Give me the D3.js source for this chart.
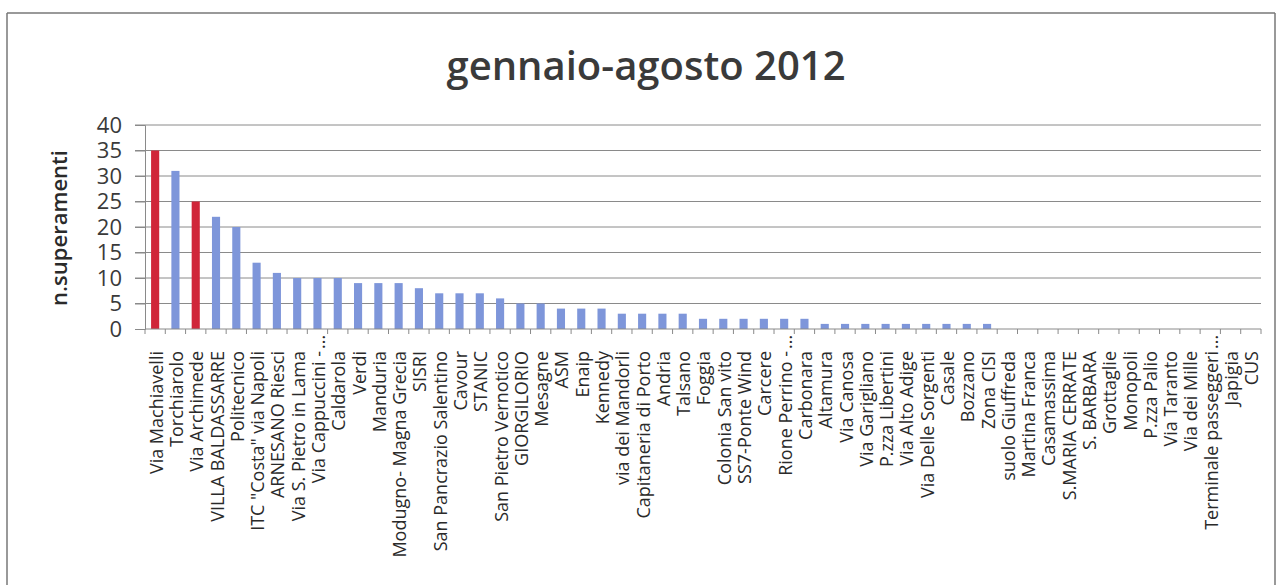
<!DOCTYPE html>
<html>
<head>
<meta charset="utf-8">
<script src="https://cdn.jsdelivr.net/npm/d3@7"></script>
<style>
    body { margin: 0; background: #fff; }
    svg { font-family: "Open Sans", sans-serif; display: block; }
</style>
</head>
<body>
<div id="chart"></div>
<script>
// Dati
const stazioni = [
    'Via Machiavelli', 'Torchiarolo', 'Via Archimede', 'VILLA BALDASSARRE', 'Politecnico',
    'ITC "Costa" via Napoli', 'ARNESANO Riesci', 'Via S. Pietro in Lama', 'Via Cappuccini -...', 'Caldarola',
    'Verdi', 'Manduria', 'Modugno- Magna Grecia', 'SISRI', 'San Pancrazio Salentino',
    'Cavour', 'STANIC', 'San Pietro Vernotico', 'GIORGILORIO', 'Mesagne',
    'ASM', 'Enaip', 'Kennedy', 'via dei Mandorli', 'Capitaneria di Porto',
    'Andria', 'Talsano', 'Foggia', 'Colonia San vito', 'SS7-Ponte Wind',
    'Carcere', 'Rione Perrino -...', 'Carbonara', 'Altamura', 'Via Canosa',
    'Via Garigliano', 'P.zza Libertini', 'Via Alto Adige', 'Via Delle Sorgenti', 'Casale',
    'Bozzano', 'Zona CISI', 'suolo Giuffreda', 'Martina Franca', 'Casamassima',
    'S.MARIA CERRATE', 'S. BARBARA', 'Grottaglie', 'Monopoli', 'P.zza Palio',
    'Via Taranto', 'Via dei Mille', 'Terminale passeggeri...', 'Japigia', 'CUS'
];
const superamenti = [
    35, 31, 25, 22, 20, 13, 11, 10, 10, 10,
    9, 9, 9, 8, 7, 7, 7, 6, 5, 5,
    4, 4, 4, 3, 3, 3, 3, 2, 2, 2,
    2, 2, 2, 1, 1, 1, 1, 1, 1, 1,
    1, 1, 0, 0, 0, 0, 0, 0, 0, 0,
    0, 0, 0, 0, 0
];
// stazioni evidenziate in rosso
const evidenziate = ['Via Machiavelli', 'Via Archimede'];
const yTicks = [0, 5, 10, 15, 20, 25, 30, 35, 40];
const titolo = 'gennaio-agosto 2012';
const titoloY = 'n.superamenti';

const width = 1278, height = 585;
const margin = { top: 125, right: 17, bottom: 256, left: 145 };
const innerWidth = width - margin.left - margin.right;
const innerHeight = height - margin.top - margin.bottom;

const data = stazioni.map((s, i) => ({ nome: s, valore: superamenti[i] }));

const svg = d3.select('#chart')
    .append('svg')
    .attr('width', width)
    .attr('height', height);

// cornice: solo i lati superiore, sinistro e destro
svg.append('g')
    .selectAll('line')
    .data([[7, 13, 1275, 13], [7, 13, 7, height], [1275, 13, 1275, height]])
    .enter()
    .append('line')
    .attr('x1', d => d[0]).attr('y1', d => d[1])
    .attr('x2', d => d[2]).attr('y2', d => d[3])
    .attr('stroke', '#777')
    .attr('stroke-width', 1.5);

svg.append('text')
    .attr('x', 646).attr('y', 80)
    .attr('text-anchor', 'middle')
    .attr('font-size', 40)
    .attr('font-weight', 600)
    .attr('fill', '#3a3a3a')
    .text(titolo);

const g = svg.append('g')
    .attr('transform', `translate(${margin.left},${margin.top})`);

const x = d3.scaleBand()
    .domain(stazioni)
    .range([0, innerWidth])
    .paddingInner(0.6)
    .paddingOuter(0.3);

const y = d3.scaleLinear()
    .domain([0, 40])
    .range([innerHeight, 0]);

// griglia
g.append('g')
    .selectAll('line')
    .data(yTicks.slice(1))
    .enter()
    .append('line')
    .attr('x1', -10).attr('x2', innerWidth)
    .attr('y1', d => y(d)).attr('y2', d => y(d))
    .attr('stroke', '#8a8a8a')
    .attr('stroke-width', 1);

// asse y
const yAxis = g.append('g')
    .call(d3.axisLeft(y).tickValues(yTicks).tickSize(10).tickPadding(13));
yAxis.select('.domain').attr('stroke', '#8a8a8a');
yAxis.selectAll('.tick line').attr('stroke', '#8a8a8a');
yAxis.selectAll('.tick text')
    .attr('font-size', 22)
    .attr('font-family', '"Open Sans", sans-serif')
    .attr('fill', '#3a3a3a');

// barre
g.selectAll('rect.barra')
    .data(data)
    .enter()
    .append('rect')
    .attr('class', 'barra')
    .attr('x', d => x(d.nome))
    .attr('y', d => y(d.valore))
    .attr('width', x.bandwidth())
    .attr('height', d => innerHeight - y(d.valore))
    .attr('fill', d => evidenziate.includes(d.nome) ? '#d0263a' : '#7e96da');

// asse x: linea e tacche tra le categorie
const step = x.step();
const xAxis = g.append('g')
    .attr('transform', `translate(0,${innerHeight})`);
xAxis.append('line')
    .attr('x1', 0).attr('x2', innerWidth)
    .attr('stroke', '#8a8a8a');
xAxis.selectAll('line.tacca')
    .data(d3.range(stazioni.length + 1))
    .enter()
    .append('line')
    .attr('class', 'tacca')
    .attr('x1', i => i * step).attr('x2', i => i * step)
    .attr('y1', 0).attr('y2', 5)
    .attr('stroke', '#8a8a8a');

// etichette ruotate (i puntini di sospensione sporgono oltre l'allineamento)
const etichette = xAxis.selectAll('g.etichetta')
    .data(stazioni)
    .enter()
    .append('g')
    .attr('class', 'etichetta')
    .attr('transform', d => `translate(${x(d) + x.bandwidth() / 2 + 1},22) rotate(-90)`);

etichette.append('text')
    .attr('text-anchor', 'end')
    .attr('dy', '0.36em')
    .attr('font-size', 18)
    .attr('fill', '#2a2a2a')
    .text(d => d.endsWith('...') ? d.slice(0, -3) : d);

etichette.filter(d => d.endsWith('...'))
    .append('text')
    .attr('x', 2)
    .attr('text-anchor', 'start')
    .attr('dy', '0.36em')
    .attr('font-size', 18)
    .attr('fill', '#2a2a2a')
    .text('...');

// titolo asse y
svg.append('text')
    .attr('transform', 'translate(67,228) rotate(-90)')
    .attr('text-anchor', 'middle')
    .attr('font-size', 22)
    .attr('font-weight', 600)
    .attr('fill', '#2a2a2a')
    .text(titoloY);
</script>
</body>
</html>
